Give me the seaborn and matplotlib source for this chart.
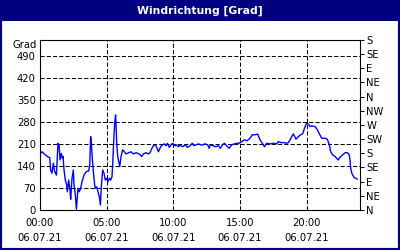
import matplotlib
matplotlib.use("Agg")
import matplotlib.pyplot as plt
import seaborn as sns
import pandas as pd
from matplotlib.patches import Rectangle
from matplotlib.ticker import MultipleLocator, FixedLocator

# ---- data (hours since 00:00 on 06.07.21, wind direction in degrees) ----
hours = [0.05, 0.15, 0.35, 0.55, 0.73, 0.80, 0.90, 1.00, 1.10, 1.23, 1.35, 1.43, 1.50,
         1.60, 1.68, 1.73, 1.80, 1.90, 2.00, 2.05, 2.15, 2.25, 2.30, 2.40, 2.50, 2.55,
         2.65, 2.73, 2.80, 2.85, 2.95, 3.05, 3.15, 3.30, 3.48, 3.65, 3.73, 3.80, 3.85,
         3.93, 4.00, 4.10, 4.15, 4.25, 4.35, 4.45, 4.53, 4.60, 4.70, 4.80, 4.90, 5.00,
         5.10, 5.20, 5.30, 5.40, 5.45, 5.52, 5.60, 5.67, 5.72, 5.75, 5.83, 5.90, 5.98,
         6.08, 6.20, 6.33, 6.45, 6.65, 6.83, 7.00, 7.20, 7.45, 7.63, 7.75, 7.95, 8.13,
         8.25, 8.45, 8.58, 8.70, 8.88, 9.05, 9.20, 9.33, 9.45, 9.55, 9.70, 9.83, 9.95,
         10.13, 10.25, 10.38, 10.50, 10.70, 10.88, 11.05, 11.25, 11.43, 11.55, 11.70,
         11.88, 12.13, 12.38, 12.58, 12.68, 12.78, 13.00, 13.18, 13.38, 13.53, 13.68,
         13.83, 14.00, 14.18, 14.38, 14.58, 14.75, 14.93, 15.13, 15.33, 15.53, 15.75,
         15.93, 16.13, 16.33, 16.50, 16.75, 16.83, 17.00, 17.25, 17.50, 17.75, 17.88,
         18.08, 18.33, 18.50, 18.63, 18.75, 19.00, 19.20, 19.38, 19.55, 19.70, 19.88,
         20.00, 20.13, 20.25, 20.38, 20.63, 20.80, 20.95, 21.13, 21.38, 21.55, 21.70,
         21.80, 21.95, 22.13, 22.25, 22.38, 22.50, 22.70, 22.88, 23.05, 23.18, 23.25,
         23.30, 23.40, 23.55, 23.80]
direction = [180, 185, 177, 170, 166, 127, 117, 149, 122, 111, 212, 207, 159,
             180, 164, 170, 127, 95, 80, 58, 95, 64, 34, 101, 127, 80,
             48, 2, 42, 69, 58, 69, 90, 111, 122, 124, 143, 233, 212,
             159, 122, 80, 69, 74, 58, 42, 16, 74, 127, 117, 95, 101,
             90, 101, 95, 106, 143, 212, 276, 302, 255, 212, 170, 155, 138,
             170, 191, 185, 178, 182, 185, 178, 182, 178, 170, 178, 182, 178,
             182, 201, 207, 204, 185, 201, 207, 210, 204, 212, 199, 207, 212,
             204, 207, 201, 206, 201, 207, 199, 204, 212, 204, 207,
             210, 206, 210, 207, 196, 207, 204, 201, 204, 196, 207,
             212, 204, 196, 207, 210, 212, 212, 217, 223, 220, 228,
             239, 239, 241, 223, 207, 201, 212, 210, 212, 210, 217,
             214, 214, 212, 214, 223, 242, 225, 233, 239, 242, 265,
             276, 273, 265, 267, 265, 255, 242, 228, 228, 225, 207,
             185, 175, 170, 164, 159, 168, 175, 182, 182, 177, 159,
             133, 115, 104, 98]

left_ticks = [0, 70, 140, 210, 280, 350, 420, 490]
right_ticks = [0, 45, 90, 135, 180, 225, 270, 315, 360, 405, 450, 495, 540]
right_labels = ["N", "NE", "E", "SE", "S", "SW", "W", "NW", "N", "NE", "E", "SE", "S"]
x_major = [0, 5, 10, 15, 20]
x_labels = ["00:00\n06.07.21", "05:00\n06.07.21", "10:00\n06.07.21",
            "15:00\n06.07.21", "20:00\n06.07.21"]
title = "Windrichtung [Grad]"
unit = "Grad"

sns.set_style("white")
plt.rcParams["font.family"] = ["DejaVu Sans"]
plt.rcParams["lines.scale_dashes"] = False

NAVY = "#000080"
W, H = 400, 250
fig = plt.figure(figsize=(4, 2.5), dpi=100, facecolor="white")
ax = fig.add_axes([40 / W, 1 - 210 / H, 320 / W, 170 / H])

df = pd.DataFrame({"hour": hours, "dir": direction})
sns.lineplot(data=df, x="hour", y="dir", ax=ax, color="#0000FF", linewidth=1.0,
             estimator=None, sort=False)

ax.set_xlim(0, 24)
ax.set_ylim(0, 540)
ax.set_xlabel("")
ax.set_ylabel("")

ax.yaxis.set_major_locator(FixedLocator(left_ticks))
ax.set_yticklabels([str(v) for v in left_ticks])
ax.xaxis.set_major_locator(FixedLocator(x_major))
ax.set_xticklabels(x_labels, linespacing=1.6)
ax.xaxis.set_minor_locator(MultipleLocator(1))

ax.tick_params(axis="y", which="both", length=0, pad=3, labelsize=7.2, colors="black")
ax.tick_params(axis="x", which="major", length=0, pad=6, labelsize=7.2, colors="black")
ax.tick_params(axis="x", which="minor", length=2.2, width=0.75, direction="inout",
               colors="black")

grid_kw = dict(color="black", linewidth=0.75, linestyle=(0, (3, 1.5)))
for v in left_ticks[1:]:
    ax.axhline(v, **grid_kw, zorder=1)
for v in x_major[1:]:
    ax.axvline(v, **grid_kw, zorder=1)

for s in ax.spines.values():
    s.set_visible(True)
    s.set_color("black")
    s.set_linewidth(0.8)

ax2 = ax.twinx()
ax2.set_ylim(0, 540)
ax2.yaxis.set_major_locator(FixedLocator(right_ticks))
ax2.set_yticklabels(right_labels)
ax2.tick_params(axis="y", length=3, width=0.75, pad=1.5, labelsize=7.2, colors="black",
                direction="out")
for s in ax2.spines.values():
    s.set_visible(False)

ax.text(-3 / 320, 525, unit, transform=ax.get_yaxis_transform(), ha="right",
        va="center", fontsize=7.2, color="black")

# title bar and frame
fig.patches.append(Rectangle((0, 1 - 21 / H), 1, 21 / H, transform=fig.transFigure,
                             facecolor=NAVY, edgecolor="none", zorder=0))
fig.patches.append(Rectangle((0, 0), 1, 1, transform=fig.transFigure, fill=False,
                             edgecolor=NAVY, linewidth=3, zorder=0))
fig.text(0.5, 1 - 10.5 / H, title, ha="center", va="center", color="white",
         fontsize=7.8, fontweight="bold")

fig.savefig("out.png", dpi=100, facecolor="white")
